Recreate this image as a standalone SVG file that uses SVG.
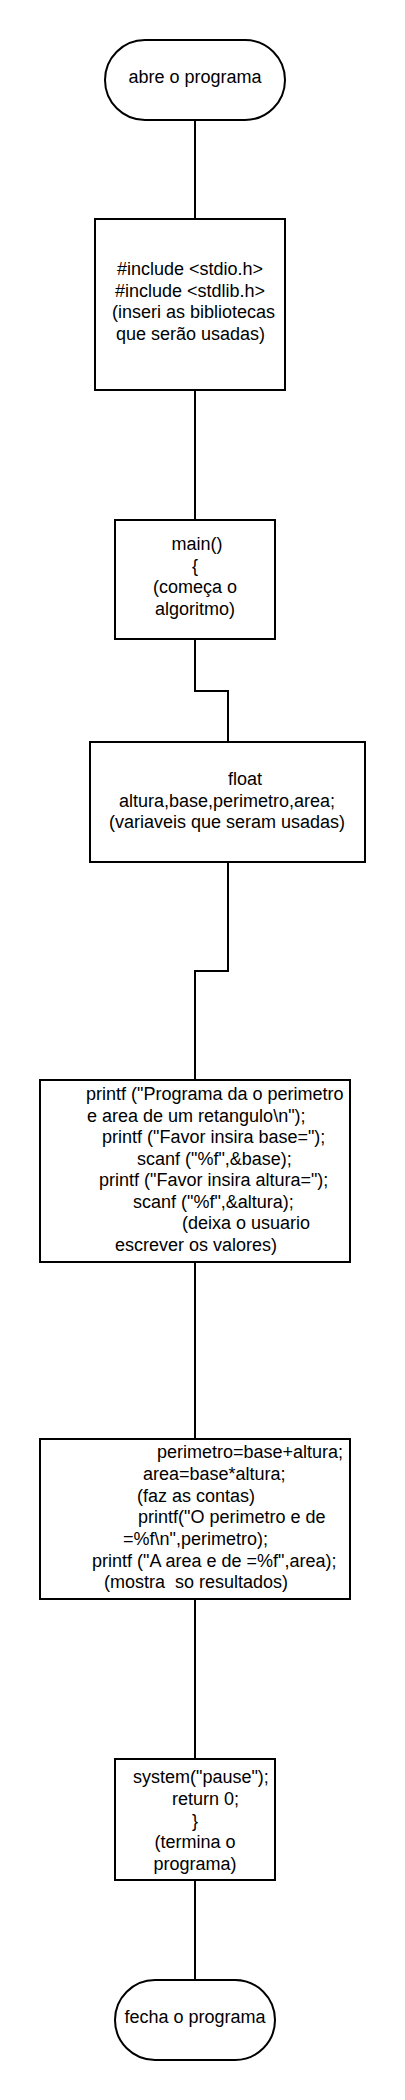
<svg xmlns="http://www.w3.org/2000/svg" width="405" height="2100" viewBox="0 0 405 2100">
<style>
.shape{fill:#fff;stroke:#000;stroke-width:2}
.conn{fill:none;stroke:#000;stroke-width:2}
text{font-family:"Liberation Sans",Arial,sans-serif;font-size:18px;fill:#000}
.m{text-anchor:middle}
</style>
<rect x="0" y="0" width="405" height="2100" fill="#fff"/>
<g id="connectors">
<path class="conn" d="M195,120 V219"/>
<path class="conn" d="M195,390 V520"/>
<path class="conn" d="M195,639 V691 H228 V742"/>
<path class="conn" d="M228,862 V971 H195 V1080"/>
<path class="conn" d="M195,1262 V1439"/>
<path class="conn" d="M195,1599 V1759"/>
<path class="conn" d="M195,1880 V1980"/>
</g>
<g id="start">
<rect class="shape" x="105" y="40" width="180" height="80" rx="40" ry="40"/>
<text class="m" x="195" y="83">abre o programa</text>
</g>
<g id="includes">
<rect class="shape" x="95" y="219" width="190" height="171"/>
<text x="117" y="275">#include &lt;stdio.h&gt;</text>
<text x="115" y="297">#include &lt;stdlib.h&gt;</text>
<text x="112" y="318">(inseri as bibliotecas</text>
<text x="116" y="340">que serão usadas)</text>
</g>
<g id="main">
<rect class="shape" x="115" y="520" width="160" height="119"/>
<text class="m" x="197" y="550">main()</text>
<text class="m" x="195" y="572">{</text>
<text class="m" x="195" y="593">(começa o</text>
<text class="m" x="195" y="615">algoritmo)</text>
</g>
<g id="vars">
<rect class="shape" x="90" y="742" width="275" height="120"/>
<text class="m" x="245" y="785">float</text>
<text class="m" x="227" y="807">altura,base,perimetro,area;</text>
<text class="m" x="227" y="828">(variaveis que seram usadas)</text>
</g>
<g id="input">
<rect class="shape" x="40" y="1080" width="310" height="182"/>
<text x="86" y="1100">printf ("Programa da o perimetro</text>
<text x="87" y="1122">e area de um retangulo\n");</text>
<text x="102" y="1143">printf ("Favor insira base=");</text>
<text x="137" y="1165">scanf ("%f",&amp;base);</text>
<text x="99" y="1186">printf ("Favor insira altura=");</text>
<text x="133" y="1208">scanf ("%f",&amp;altura);</text>
<text x="182" y="1229">(deixa o usuario</text>
<text x="115" y="1251">escrever os valores)</text>
</g>
<g id="calc">
<rect class="shape" x="40" y="1439" width="310" height="160"/>
<text x="157" y="1458">perimetro=base+altura;</text>
<text x="143" y="1480">area=base*altura;</text>
<text x="137" y="1502">(faz as contas)</text>
<text x="138" y="1523">printf("O perimetro e de</text>
<text x="123" y="1545">=%f\n",perimetro);</text>
<text x="92" y="1567">printf ("A area e de =%f",area);</text>
<text x="104" y="1588" xml:space="preserve">(mostra  so resultados)</text>
</g>
<g id="end-code">
<rect class="shape" x="115" y="1759" width="160" height="121"/>
<text x="133" y="1783">system("pause");</text>
<text x="172" y="1805">return 0;</text>
<text class="m" x="195" y="1827">}</text>
<text class="m" x="195" y="1848">(termina o</text>
<text class="m" x="195" y="1870">programa)</text>
</g>
<g id="end">
<rect class="shape" x="115" y="1980" width="160" height="80" rx="40" ry="40"/>
<text class="m" x="195" y="2023">fecha o programa</text>
</g>
</svg>
